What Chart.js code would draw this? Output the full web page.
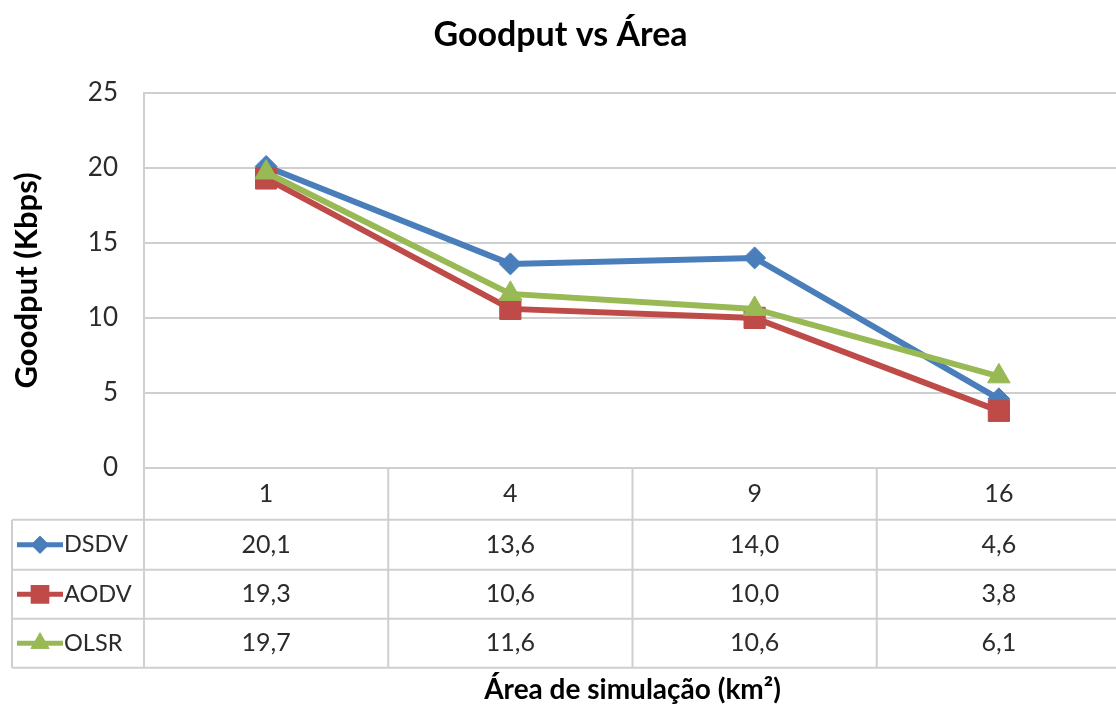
<!DOCTYPE html>
<html lang="pt">
<head>
<meta charset="utf-8">
<title>Goodput vs Área</title>
<script src="https://cdn.jsdelivr.net/npm/chart.js@4.4.1/dist/chart.umd.min.js"></script>
<style>
  html, body { margin: 0; padding: 0; background: #fff; overflow: hidden; }
  #wrap { width: 1116px; height: 713px; overflow: hidden; }
  canvas { display: block; }
</style>
</head>
<body>
<div id="wrap"><canvas id="chart" width="1121" height="713"></canvas></div>
<script>
// Simulation areas (km²) and goodput per routing protocol (Kbps)
const areas = ['1', '4', '9', '16'];
const dsdv = [20.1, 13.6, 14.0, 4.6];
const aodv = [19.3, 10.6, 10.0, 3.8];
const olsr = [19.7, 11.6, 10.6, 6.1];
const yTicks = [0, 5, 10, 15, 20, 25];

const FONT = 'Lato, "Open Sans", sans-serif';
const TEXT = '#2b2b2b';
const GRID = '#cfcfcf';

const series = [
  { label: 'DSDV', data: dsdv, color: '#4A7EBB', style: 'rectRot',  radius: 11, keyRadius: 9,  order: 3 },
  { label: 'AODV', data: aodv, color: '#BE4B48', style: 'rect',     radius: 15, keyRadius: 13, order: 2 },
  { label: 'OLSR', data: olsr, color: '#98B954', style: 'triangle', radius: 13, keyRadius: 11, order: 1 }
];

const fmt = v => v.toFixed(1).replace('.', ',');

// Data table under the plot: category row plus one row per protocol,
// columns aligned with the category scale.
const dataTable = {
  id: 'dataTable',
  afterDraw(chart) {
    const { ctx, chartArea: area, scales: { x } } = chart;
    const top = area.bottom;
    const rows = [top, top + 52, top + 102, top + 151, top + 200];
    const colW = (area.right - area.left) / areas.length;
    const legendLeft = 12;
    const right = chart.width;

    ctx.save();
    ctx.strokeStyle = GRID;
    ctx.lineWidth = 2;
    ctx.beginPath();
    for (let r = 1; r < rows.length; r++) {
      ctx.moveTo(legendLeft, rows[r]);
      ctx.lineTo(right, rows[r]);
    }
    ctx.moveTo(legendLeft, rows[1]);
    ctx.lineTo(legendLeft, rows[4]);
    for (let i = 0; i <= areas.length; i++) {
      const bx = area.left + i * colW;
      ctx.moveTo(bx, rows[0]);
      ctx.lineTo(bx, rows[4]);
    }
    ctx.stroke();

    const valueFont = '25px ' + FONT;
    const nameFont = '23.5px ' + FONT;
    ctx.fillStyle = TEXT;
    ctx.font = valueFont;
    ctx.textAlign = 'center';
    ctx.textBaseline = 'middle';
    areas.forEach((a, i) => {
      ctx.fillText(a, x.getPixelForValue(i), (rows[0] + rows[1]) / 2);
    });

    series.forEach((s, r) => {
      const cy = (rows[r + 1] + rows[r + 2]) / 2;
      // legend key: short line with the series marker
      ctx.strokeStyle = s.color;
      ctx.lineWidth = 5;
      ctx.beginPath();
      ctx.moveTo(17, cy);
      ctx.lineTo(63, cy);
      ctx.stroke();
      ctx.fillStyle = s.color;
      Chart.helpers.drawPoint(ctx, { pointStyle: s.style, radius: s.keyRadius, rotation: 0, borderWidth: 0 }, 40, cy);
      ctx.fill();

      ctx.fillStyle = TEXT;
      ctx.font = nameFont;
      ctx.textAlign = 'left';
      ctx.fillText(s.label, 64, cy);
      ctx.font = valueFont;
      ctx.textAlign = 'center';
      s.data.forEach((v, i) => {
        ctx.fillText(fmt(v), x.getPixelForValue(i), cy);
      });
    });
    ctx.restore();
  }
};

new Chart(document.getElementById('chart'), {
  type: 'line',
  data: {
    labels: areas,
    datasets: series.map(s => ({
      label: s.label,
      data: s.data,
      order: s.order,
      borderColor: s.color,
      backgroundColor: s.color,
      borderWidth: 6,
      tension: 0,
      pointStyle: s.style,
      pointRadius: s.radius,
      pointHoverRadius: s.radius,
      pointBackgroundColor: s.color,
      pointBorderColor: s.color,
      pointBorderWidth: 1
    }))
  },
  options: {
    responsive: false,
    animation: false,
    devicePixelRatio: 1,
    layout: { padding: 0, autoPadding: false },
    plugins: {
      legend: { display: false },
      tooltip: { enabled: false },
      title: {
        display: true,
        text: 'Goodput vs Área',
        color: '#000',
        font: { family: FONT, size: 34, weight: 'bold' },
        padding: { top: 14.6, bottom: 37.6 }
      }
    },
    scales: {
      x: {
        type: 'category',
        offset: true,
        grid: { display: false, drawTicks: false },
        border: { display: false },
        ticks: { display: false },
        title: {
          display: true,
          text: 'Área de simulação (km²)',
          color: '#000',
          font: { family: FONT, size: 28, weight: 'bold' },
          padding: { top: 205.4, bottom: 6.2 }
        }
      },
      y: {
        min: 0,
        max: 25,
        afterBuildTicks(scale) { scale.ticks = yTicks.map(v => ({ value: v })); },
        afterFit(scale) { scale.width = 144; },
        grid: { color: GRID, lineWidth: 2, drawTicks: false },
        border: { display: true, color: GRID, width: 2 },
        ticks: {
          color: TEXT,
          padding: 26,
          font: { family: FONT, size: 26 }
        },
        title: {
          display: true,
          text: 'Goodput (Kbps)',
          color: '#000',
          font: { family: FONT, size: 31, weight: 'bold' },
          padding: { top: 8.4, bottom: 0 }
        }
      }
    }
  },
  plugins: [dataTable]
});
</script>
</body>
</html>
